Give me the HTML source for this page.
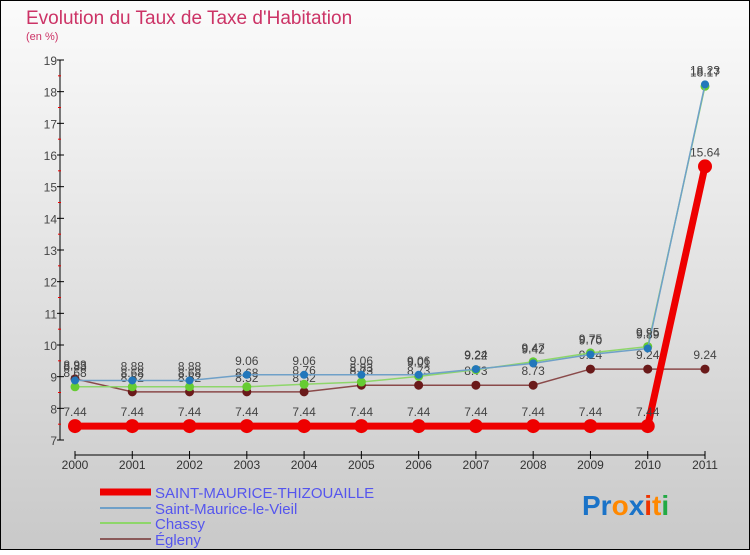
<!DOCTYPE html>
<html><head><meta charset="utf-8"><style>
html,body{margin:0;padding:0}
body{width:750px;height:550px;overflow:hidden;font-family:"Liberation Sans",sans-serif}
</style></head><body>
<svg id="chart" width="750" height="550" xmlns="http://www.w3.org/2000/svg">
<defs><linearGradient id="bg" x1="0" y1="0" x2="0" y2="1"><stop offset="0" stop-color="#fbfbfb"/><stop offset="1" stop-color="#c9c9c9"/></linearGradient></defs>
<rect x="0.5" y="0.5" width="749" height="549" fill="url(#bg)" stroke="#000"/>
<text x="26" y="24" font-size="19" fill="#cc3366">Evolution du Taux de Taxe d'Habitation</text>
<text x="26" y="40" font-size="11" fill="#cc3366">(en %)</text>
<g id="axes"></g>
<g id="series"></g>
<g font-size="15" fill="#5555ee">
<line x1="100" y1="492" x2="151" y2="492" stroke="#ee0000" stroke-width="7"/>
<text x="155" y="498">SAINT-MAURICE-THIZOUAILLE</text>
<line x1="100" y1="508" x2="151" y2="508" stroke="#6fa0c8" stroke-width="2"/>
<text x="155" y="514">Saint-Maurice-le-Vieil</text>
<line x1="100" y1="523" x2="151" y2="523" stroke="#8ed66a" stroke-width="2"/>
<text x="155" y="529">Chassy</text>
<line x1="100" y1="539" x2="151" y2="539" stroke="#8a5a5a" stroke-width="2"/>
<text x="155" y="545">Égleny</text>
</g>
<g font-size="28" font-weight="bold">
<text x="582" y="515"><tspan fill="#1a73c8">Pr</tspan><tspan fill="#ff8800">o</tspan><tspan fill="#1a73c8">x</tspan><tspan fill="#ee3300">i</tspan><tspan fill="#ff8800">t</tspan><tspan fill="#22aa44">i</tspan></text>
</g>
</svg>
<script>
const years = ["2000","2001","2002","2003","2004","2005","2006","2007","2008","2009","2010","2011"];
const yTicks = [7,8,9,10,11,12,13,14,15,16,17,18,19];
const smThizouaille = [7.44,7.44,7.44,7.44,7.44,7.44,7.44,7.44,7.44,7.44,7.44,15.64];
const smVieil = [8.88,8.88,8.88,9.06,9.06,9.06,9.06,9.24,9.42,9.7,9.89,18.23];
const chassy = [8.68,8.68,8.68,8.68,8.76,8.83,9.01,9.22,9.47,9.75,9.95,18.17];
const egleny = [8.93,8.52,8.52,8.52,8.52,8.73,8.73,8.73,8.73,9.24,9.24,9.24];

const NS="http://www.w3.org/2000/svg";
const xS=i=>75+i*(630/(years.length-1));
const yS=v=>440-(v-7)*(380/12);
function mk(tag,attrs,parent){const e=document.createElementNS(NS,tag);for(const k in attrs)e.setAttribute(k,attrs[k]);parent.appendChild(e);return e;}
const axes=document.getElementById('axes');
const ya=mk('line',{x1:60,y1:yS(19),x2:60,y2:yS(7),stroke:'#000'},axes);


yTicks.forEach(v=>{
  const t=mk('line',{x1:57,y1:yS(v),x2:64,y2:yS(v),stroke:'#000'},axes);
  
  
  if(v<19){const m=mk('line',{x1:58,y1:yS(v+0.5),x2:61,y2:yS(v+0.5),stroke:'#e00'},axes);
  
  }
  const l=mk('text',{x:57,y:yS(v)+5,'font-size':12,'text-anchor':'end',fill:'#444'},axes);
  
  
  l.textContent=v;
});
const xa=mk('line',{x1:xS(0),y1:455,x2:xS(years.length-1),y2:455,stroke:'#000'},axes);


years.forEach((y,i)=>{
  const t=mk('line',{x1:xS(i),y1:451,x2:xS(i),y2:459,stroke:'#000'},axes);
  
  
  const l=mk('text',{x:xS(i),y:469,'font-size':12,'text-anchor':'middle',fill:'#333'},axes);
  
  
  l.textContent=y;
});
const sg=document.getElementById('series');
function draw(vals,name,color,w,r,dot){
  const g=mk('g',{},sg);
  
  
  const p=mk('polyline',{points:vals.map((v,i)=>xS(i)+','+yS(v)).join(' '),fill:'none',stroke:color,'stroke-width':w},g);
  
  
  vals.forEach((v,i)=>{
    const c=mk('circle',{cx:xS(i),cy:yS(v),r:r,fill:dot},g);
    
    
    const t=mk('text',{x:xS(i),y:yS(v)-10,'font-size':12,'text-anchor':'middle',fill:'#444'},g);
    
    
    t.textContent=v.toFixed(2);
  });
}
draw(egleny,'egleny','#8a4a4a',1.5,4.5,'#6a1a1a');
draw(chassy,'chassy','#8ed66a',1.5,4.5,'#66cc33');
draw(smVieil,'saint-maurice-le-vieil','#6fa0c8',1.5,4,'#2277bb');
draw(smThizouaille,'saint-maurice-thizouaille','#ee0000',7,7,'#ee0000');
</script>
</body></html>
